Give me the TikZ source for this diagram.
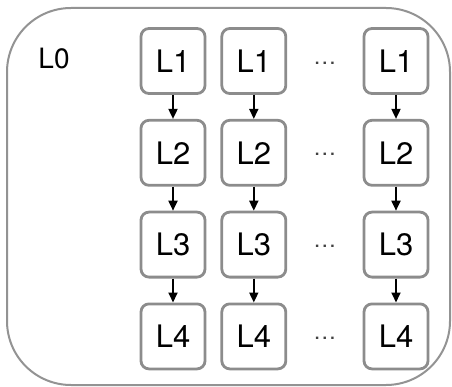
\documentclass[tikz,border=0pt]{standalone}
\usepackage{fontspec}
\setmainfont{TeX Gyre Heros}
\usepackage{tikz}
\usetikzlibrary{arrows.meta,positioning,calc}

\begin{document}
\begin{tikzpicture}[
  x=1pt, y=-1pt,
  layer/.style={rectangle, draw=gray!90, line width=2.8pt, rounded corners=8pt, minimum width=64pt, minimum height=65pt, inner sep=0pt, font=\fontsize{31}{34}\selectfont},
  gap/.style={font=\fontsize{23}{24}\selectfont, text=black!75},
  >={Triangle[length=10pt,width=9pt]},
  node distance=24pt and 14pt
]
\useasboundingbox (0,0) rectangle (452,387);

% Outer frame
\draw[gray!85, line width=2pt, rounded corners=64pt] (7,8) rectangle (450,385);
\node[font=\fontsize{28}{30}\selectfont] (lzero) at (54,59) {L0};

% Nodes
\node[layer] (a1) at (173,61) {L1};
\node[layer, below=of a1] (a2) {L2};
\node[layer, below=of a2] (a3) {L3};
\node[layer, below=of a3] (a4) {L4};
\node[layer, right=of a1] (b1) {L1};
\node[layer, right=of a2] (b2) {L2};
\node[layer, right=of a3] (b3) {L3};
\node[layer, right=of a4] (b4) {L4};
\node[layer] (c1) at (396,61) {L1};
\node[layer, below=of c1] (c2) {L2};
\node[layer, below=of c2] (c3) {L3};
\node[layer, below=of c3] (c4) {L4};

% Dots
\node[gap] (d1) at ($(b1)!0.5!(c1)+(0,2)$) {\dots};
\node[gap] (d2) at ($(b2)!0.5!(c2)+(0,2)$) {\dots};
\node[gap] (d3) at ($(b3)!0.5!(c3)+(0,2)$) {\dots};
\node[gap] (d4) at ($(b4)!0.5!(c4)+(0,2)$) {\dots};

% Edges
\draw[->, line width=1.8pt] (a1) -- (a2);
\draw[->, line width=1.8pt] (a2) -- (a3);
\draw[->, line width=1.8pt] (a3) -- (a4);
\draw[->, line width=1.8pt] (b1) -- (b2);
\draw[->, line width=1.8pt] (b2) -- (b3);
\draw[->, line width=1.8pt] (b3) -- (b4);
\draw[->, line width=1.8pt] (c1) -- (c2);
\draw[->, line width=1.8pt] (c2) -- (c3);
\draw[->, line width=1.8pt] (c3) -- (c4);

\end{tikzpicture}
\end{document}
